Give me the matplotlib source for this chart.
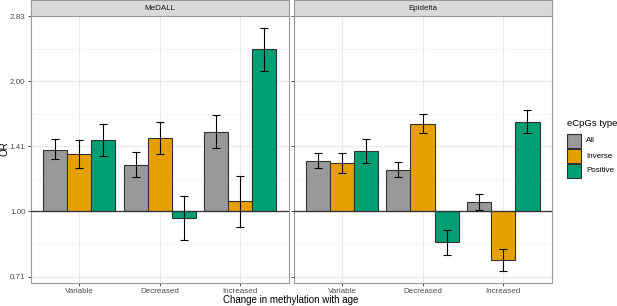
import numpy as np
import matplotlib
matplotlib.use("Agg")
import matplotlib.pyplot as plt
from matplotlib.patches import Rectangle

plt.rcParams["font.family"] = ["Liberation Sans", "DejaVu Sans"]

categories = ["Variable", "Decreased", "Increased"]
types = ["All", "Inverse", "Positive"]
colors = ["#999999", "#E69F00", "#009E73"]
panels = ["MeDALL", "Epidelta"]

# OR, lower CI, upper CI per panel: rows = categories, cols = types
medall_or = [[1.39, 1.355, 1.465], [1.28, 1.48, 0.967], [1.53, 1.056, 2.37]]
medall_lo = [[1.32, 1.262, 1.346], [1.20, 1.36, 0.860], [1.40, 0.923, 2.11]]
medall_hi = [[1.47, 1.46, 1.593], [1.37, 1.61, 1.088], [1.67, 1.208, 2.66]]
epi_or = [[1.31, 1.294, 1.382], [1.25, 1.596, 0.849], [1.053, 0.773, 1.613]]
epi_lo = [[1.26, 1.227, 1.294], [1.20, 1.516, 0.795], [1.009, 0.730, 1.518]]
epi_hi = [[1.365, 1.365, 1.473], [1.30, 1.677, 0.907], [1.099, 0.820, 1.716]]

yticks = [2 ** -0.5, 1.0, 2 ** 0.5, 2.0, 2 ** 1.5]
yticklabels = ["0.71", "1.00", "1.41", "2.00", "2.83"]

W, H = 617, 306
fig = plt.figure(figsize=(W / 100, H / 100), dpi=100)

def px_axes(x0, y0, x1, y1):
    return fig.add_axes([x0 / W, 1 - y1 / H, (x1 - x0) / W, (y1 - y0) / H])

axes = [px_axes(31, 15.7, 288.5, 282.7), px_axes(293.5, 15.7, 551.7, 282.7)]
data = [(medall_or, medall_lo, medall_hi), (epi_or, epi_lo, epi_hi)]

bw = 0.3
tick_col = "#4D4D4D"
tfs = 5.8
for ax, name, (orv, lo, hi) in zip(axes, panels, data):
    ax.set_yscale("log", base=2)
    ax.set_xlim(0.4, 3.6)
    ax.set_ylim(2 ** -0.547, 2 ** 1.503)
    # grid
    for m in [2 ** -0.25, 2 ** 0.25, 2 ** 0.75, 2 ** 1.25]:
        ax.axhline(m, color="#F2F2F2", lw=0.5, zorder=0)
    for t in yticks:
        ax.axhline(t, color="#EBEBEB", lw=0.9, zorder=0)
    for i in range(3):
        ax.axvline(i + 1, color="#EBEBEB", lw=0.9, zorder=0)
    for i, cat in enumerate(categories):
        for j in range(3):
            x = i + 1 + (j - 1) * bw
            v = orv[i][j]
            ax.bar(x, v - 1, bottom=1, width=bw, color=colors[j],
                   edgecolor="#333333", lw=0.8, zorder=2)
            ax.errorbar(x, v, yerr=[[v - lo[i][j]], [hi[i][j] - v]],
                        fmt="none", ecolor="black", elinewidth=0.8,
                        capsize=3, capthick=0.8, zorder=4)
    ax.axhline(1.0, color="#333333", lw=0.9, zorder=3)
    ax.set_xticks([1, 2, 3])
    ax.set_xticklabels(categories, fontsize=tfs, color=tick_col)
    ax.set_yticks(yticks)
    ax.yaxis.set_minor_locator(matplotlib.ticker.NullLocator())
    if ax is axes[0]:
        ax.set_yticklabels(yticklabels, fontsize=tfs, color=tick_col)
    else:
        ax.set_yticklabels([])
        ax.tick_params(axis="y", length=0)
    ax.tick_params(axis="both", length=2.5, width=0.6, color="#333333", pad=1.5)
    for s in ax.spines.values():
        s.set_color("#999999")
        s.set_linewidth(0.8)
    # strip
    pos = ax.get_position()
    sax = fig.add_axes([pos.x0, pos.y1, pos.width, 15.2 / H])
    sax.set_xticks([]); sax.set_yticks([])
    sax.set_facecolor("#D9D9D9")
    for s in sax.spines.values():
        s.set_color("#999999")
        s.set_linewidth(0.8)
    sax.text(0.5, 0.5, name, ha="center", va="center", fontsize=tfs,
             color="#1A1A1A", transform=sax.transAxes)

fig.text(291 / W, 1 - 300 / H, "Change in methylation with age", ha="center",
         va="center", fontsize=7, color="black")
fig.text(4.5 / W, 1 - 149 / H, "OR", ha="center", va="center", rotation=90,
         fontsize=7, color="black")

# legend
fig.text(567 / W, 1 - 124 / H, "eCpGs type", ha="left", va="center",
         fontsize=6.8, color="black")
for j, (t, c) in enumerate(zip(types, colors)):
    yc = 141 + 15 * j
    fig.patches.append(Rectangle((567 / W, 1 - (yc + 7) / H), 14 / W, 14 / H,
                                 transform=fig.transFigure, facecolor=c,
                                 edgecolor="#333333", lw=0.8))
    fig.text(586 / W, 1 - yc / H, t, ha="left", va="center", fontsize=tfs,
             color="black")

fig.savefig("out.png", dpi=100)
